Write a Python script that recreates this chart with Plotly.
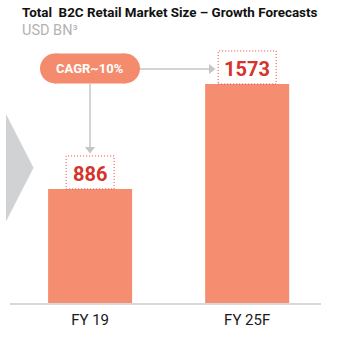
import plotly.graph_objects as go

# Chart data
categories = ["FY 19", "FY 25F"]
market_size = [886, 1573]
value_labels = ["886", "1573"]
cagr_label = "CAGR~10%"
title_text = "Total  B2C Retail Market Size \u2013 Growth Forecasts"
subtitle_text = "USD BN\u00b3"

# Layout geometry (pixels)
W, H = 348, 339
ML, MR, MT, MB = 10, 27, 50, 36
PW, PH = W - ML - MR, H - MT - MB
X_RANGE = [-0.51, 1.47]
Y_RANGE = [140, 1795]

BAR_COLOR = "#f58e70"
PILL_COLOR = "#f58b6d"
RED = "#d3352c"
GREY_ARROW = "#c6c6c8"


def px_x(px):
    """Pixel x in the page -> paper x."""
    return (px - ML) / PW


def px_y(py):
    """Pixel y in the page (from top) -> paper y."""
    return (H - MB - py) / PH


fig = go.Figure()
fig.add_trace(go.Bar(
    x=list(range(len(categories))),
    y=market_size,
    width=0.535,
    marker=dict(color=BAR_COLOR, line=dict(width=0)),
    hoverinfo="skip",
))

shapes = []
annotations = []

# Dotted boxes around the value labels, sitting on each bar top
box_half_widths = [24, 29]
for i, (v, lab) in enumerate(zip(market_size, value_labels)):
    hw = box_half_widths[i]
    shapes.append(dict(
        type="rect", xref="x", yref="y",
        xsizemode="pixel", ysizemode="pixel",
        xanchor=i, yanchor=v,
        x0=-hw, x1=hw, y0=0, y1=33,
        line=dict(color="#e4473e", width=1, dash="1px,2px"),
        fillcolor="rgba(0,0,0,0)", layer="above",
    ))
    annotations.append(dict(
        x=i, y=v, xref="x", yref="y", text=f"<b>{lab}</b>",
        showarrow=False, xanchor="center", yanchor="middle", yshift=15,
        font=dict(family="Roboto", size=20, color=RED),
    ))

# Grey chevron on the left edge
shapes.append(dict(
    type="path", xref="paper", yref="paper",
    path=(f"M {px_x(6)} {px_y(114)} L {px_x(33.5)} {px_y(167.7)} "
          f"L {px_x(6)} {px_y(221.5)} Z"),
    fillcolor="#d1d2d4", line=dict(width=0), layer="below",
))

# CAGR pill: rectangle with two round ends
pill_l, pill_r, pill_t, pill_b = 40, 140, 53.5, 83.5
r = (pill_b - pill_t) / 2
shapes.append(dict(
    type="rect", xref="paper", yref="paper",
    x0=px_x(pill_l + r), x1=px_x(pill_r - r), y0=px_y(pill_b), y1=px_y(pill_t),
    fillcolor=PILL_COLOR, line=dict(width=0),
))
for cx in (pill_l + r, pill_r - r):
    shapes.append(dict(
        type="circle", xref="paper", yref="paper",
        x0=px_x(cx - r), x1=px_x(cx + r), y0=px_y(pill_b), y1=px_y(pill_t),
        fillcolor=PILL_COLOR, line=dict(width=0),
    ))
annotations.append(dict(
    x=px_x(90), y=px_y(68.5), xref="paper", yref="paper",
    text=f"<b>{cagr_label}</b>", showarrow=False,
    xanchor="center", yanchor="middle",
    font=dict(family="Roboto", size=13, color="white"),
))

# Connector arrows from the pill
shapes.append(dict(
    type="line", xref="paper", yref="paper",
    x0=px_x(pill_r), x1=px_x(209.5), y0=px_y(69), y1=px_y(69),
    line=dict(color=GREY_ARROW, width=1.5),
))
shapes.append(dict(
    type="path", xref="paper", yref="paper",
    path=f"M {px_x(209)} {px_y(64)} L {px_x(215.5)} {px_y(69)} L {px_x(209)} {px_y(74)} Z",
    fillcolor=GREY_ARROW, line=dict(width=0),
))
shapes.append(dict(
    type="line", xref="paper", yref="paper",
    x0=px_x(90), x1=px_x(90), y0=px_y(pill_b), y1=px_y(147.5),
    line=dict(color=GREY_ARROW, width=1.5),
))
shapes.append(dict(
    type="path", xref="paper", yref="paper",
    path=f"M {px_x(84.8)} {px_y(147)} L {px_x(95.2)} {px_y(147)} L {px_x(90)} {px_y(153.5)} Z",
    fillcolor=GREY_ARROW, line=dict(width=0),
))

# Title and unit line
annotations.append(dict(
    x=px_x(20), y=px_y(3), xref="paper", yref="paper",
    text=f"<b>{title_text}</b>", showarrow=False,
    xanchor="left", yanchor="top",
    font=dict(family="Roboto", size=13.4, color="#111111"),
))
annotations.append(dict(
    x=px_x(19.5), y=px_y(19.5), xref="paper", yref="paper",
    text=subtitle_text, showarrow=False,
    xanchor="left", yanchor="top",
    font=dict(family="Roboto", size=14.5, color="#b3b3b3"),
))

fig.update_layout(
    width=W, height=H,
    margin=dict(l=ML, r=MR, t=MT, b=MB, pad=0),
    paper_bgcolor="white", plot_bgcolor="white",
    showlegend=False,
    shapes=shapes, annotations=annotations,
    xaxis=dict(
        range=X_RANGE, tickmode="array",
        tickvals=list(range(len(categories))), ticktext=categories,
        showgrid=False, zeroline=False, showline=True,
        linecolor="#d9d9d9", linewidth=2, ticks="",
        ticklabelstandoff=2,
        tickfont=dict(family="Roboto", size=15, color="#1a1a1a"),
        fixedrange=True,
    ),
    yaxis=dict(
        range=Y_RANGE, visible=False, showgrid=False, zeroline=False,
        fixedrange=True,
    ),
)

fig.write_html("out.html", config={"displayModeBar": False})
